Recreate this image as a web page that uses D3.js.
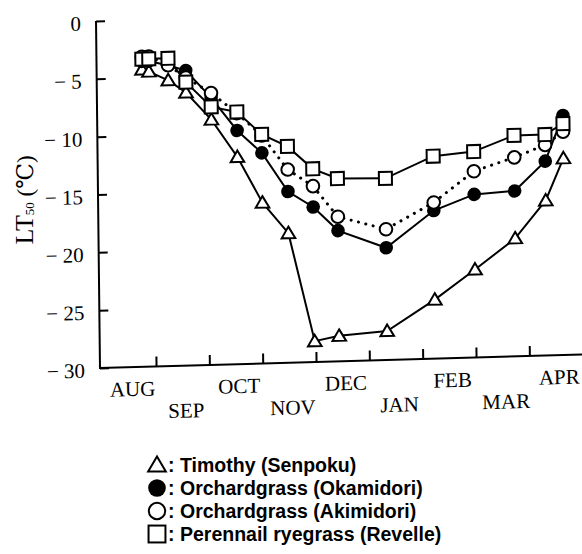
<!DOCTYPE html>
<html>
<head>
<meta charset="utf-8">
<script src="https://cdn.jsdelivr.net/npm/d3@7"></script>
<style>
  html, body { margin: 0; padding: 0; background: #fff; }
  .serif text, text.serif { font-family: "Liberation Serif", "DejaVu Serif", serif; fill: #000; }
  .legend text { font-family: "Liberation Sans", Arial, sans-serif; font-weight: bold; font-size: 19.5px; fill: #000; }
</style>
</head>
<body>
<div id="chart"></div>
<script>
// month labels along the x axis (each month is one interval)
const months = ["AUG", "SEP", "OCT", "NOV", "DEC", "JAN", "FEB", "MAR", "APR"];
// sampling dates, in months counted from 1 Aug
const sampleMonths = [0.80, 0.93, 1.29, 1.62, 2.09, 2.57, 3.03, 3.51, 3.98, 4.44, 5.34, 6.24, 7.00, 7.76, 8.34, 8.68];

// LT50 values (deg C)
const timothy   = [-4.3, -4.5, -5.3, -6.4, -8.8, -12.1, -16.1, -18.8, -28.2, -27.8, -27.5, -24.9, -22.4, -19.8, -16.6, -13.0];
const okamidori = [-3.6, -3.6, -4.0, -4.5, -6.9, -9.8, -11.8, -15.2, -16.6, -18.7, -20.3, -17.2, -15.9, -15.7, -13.2, -9.3];
const akimidori = [-3.2, -3.2, -4.0, -5.1, -6.5, -8.3, -10.3, -13.3, -14.8, -17.5, -18.7, -16.5, -13.9, -12.8, -11.8, -10.7];
const revelle   = [-3.4, -3.4, -3.4, -5.5, -7.7, -8.2, -10.2, -11.3, -13.3, -14.2, -14.3, -12.5, -12.2, -10.9, -10.9, -10.0];

const yTicks = [0, -5, -10, -15, -20, -25, -30];

const legendItems = [
    {shape: "triangle", label: "Timothy (Senpoku)"},
    {shape: "filled", label: "Orchardgrass (Okamidori)"},
    {shape: "open", label: "Orchardgrass (Akimidori)"},
    {shape: "square", label: "Perennail ryegrass (Revelle)"}
];

const W = 582, H = 554;

const svg = d3.select("#chart").append("svg")
    .attr("width", W)
    .attr("height", H);

// the scanned figure is slightly skewed, so the plot sits in a sheared frame
const plot = svg.append("g")
    .attr("transform", "translate(100,368) matrix(1,-0.028,0.0115,1,0,0)");

const x = d3.scaleLinear().domain([0, 9]).range([2.7, 482.7]);
const y = d3.scaleLinear().domain([-30, 0]).range([0, -347]);

// y axis
const yAxis = d3.axisLeft(y)
    .tickValues(yTicks)
    .tickSizeInner(-9)
    .tickSizeOuter(0)
    .tickPadding(15)
    .tickFormat(d => d === 0 ? "0" : "\u2212 " + Math.abs(d));

const gy = plot.append("g").attr("class", "serif").call(yAxis)
    .attr("font-family", null).attr("font-size", null);
gy.select(".domain").remove();
gy.selectAll(".tick line").attr("stroke", "#000").attr("stroke-width", 2);
gy.selectAll(".tick text")
    .style("font-size", "21px")
    .attr("dy", "0.42em");

plot.append("line")
    .attr("x1", 0).attr("x2", 0)
    .attr("y1", 1).attr("y2", y(0))
    .attr("stroke", "#000").attr("stroke-width", 2);

// x axis
const xAxis = d3.axisBottom(x)
    .tickValues(d3.range(1, 9))
    .tickSizeInner(-10)
    .tickSizeOuter(0)
    .tickFormat("");

const gx = plot.append("g").call(xAxis);
gx.select(".domain").remove();
gx.selectAll(".tick line").attr("stroke", "#000").attr("stroke-width", 2);

plot.append("line")
    .attr("x1", -1).attr("x2", 482)
    .attr("y1", 0).attr("y2", 0)
    .attr("stroke", "#000").attr("stroke-width", 2);

plot.append("g").attr("class", "serif")
    .selectAll("text")
    .data(months)
    .enter().append("text")
    .attr("x", (d, i) => x(i + 0.5) + 3)
    .attr("y", (d, i) => i % 2 === 0 ? 29 : 52)
    .attr("text-anchor", "middle")
    .style("font-size", "21px")
    .text(d => d);

// y title
const yt = svg.append("text")
    .attr("class", "serif")
    .attr("transform", "translate(33,200) rotate(-90)")
    .attr("text-anchor", "middle")
    .attr("fill", "#000")
    .style("font-size", "26px");
yt.append("tspan").text("LT");
yt.append("tspan").style("font-size", "13px").attr("dy", 1).text("50");
yt.append("tspan").style("font-size", "23px").attr("dy", -1).text(" (\u2103)");

// lines
const series = [
    {vals: timothy, shape: "triangle", dash: null},
    {vals: okamidori, shape: "filled", dash: null},
    {vals: akimidori, shape: "open", dash: "0.1,7.5"},
    {vals: revelle, shape: "square", dash: null}
];

const line = d3.line()
    .x(d => x(d[0]))
    .y(d => y(d[1]));

series.forEach(s => {
    const pts = sampleMonths.map((m, i) => [m, s.vals[i]]);
    plot.append("path")
        .datum(pts)
        .attr("d", line)
        .attr("fill", "none")
        .attr("stroke", "#000")
        .attr("stroke-width", s.dash ? 3 : 2)
        .attr("stroke-linecap", s.dash ? "round" : "butt")
        .attr("stroke-dasharray", s.dash);
});

function drawMarker(g, shape, cx, cy, k) {
    if (shape === "triangle") {
        g.append("path")
            .attr("d", `M${cx},${cy - 6.5 * k}L${cx + 6.8 * k},${cy + 5 * k}L${cx - 6.8 * k},${cy + 5 * k}Z`)
            .attr("fill", "#fff").attr("stroke", "#000").attr("stroke-width", 2)
            .attr("stroke-linejoin", "miter");
    } else if (shape === "filled") {
        g.append("circle").attr("cx", cx).attr("cy", cy).attr("r", 6.8 * k)
            .attr("fill", "#000");
    } else if (shape === "open") {
        g.append("circle").attr("cx", cx).attr("cy", cy).attr("r", 6.3 * k)
            .attr("fill", "#fff").attr("stroke", "#000").attr("stroke-width", 2);
    } else {
        g.append("rect").attr("x", cx - 6.5 * k).attr("y", cy - 6.5 * k)
            .attr("width", 13 * k).attr("height", 13 * k)
            .attr("fill", "#fff").attr("stroke", "#000").attr("stroke-width", 2);
    }
}

// markers
series.forEach(s => {
    const g = plot.append("g");
    sampleMonths.forEach((m, i) => drawMarker(g, s.shape, x(m), y(s.vals[i]), 1));
});

// legend
const legend = svg.append("g").attr("class", "legend");
legendItems.forEach((d, i) => {
    const by = 472 + i * 23;
    const g = legend.append("g");
    drawMarker(g, d.shape, 157, by - 7, 1.3);
    g.append("text").attr("x", 168).attr("y", by).text(":");
    g.append("text").attr("x", 180).attr("y", by).text(d.label);
});
</script>
</body>
</html>
